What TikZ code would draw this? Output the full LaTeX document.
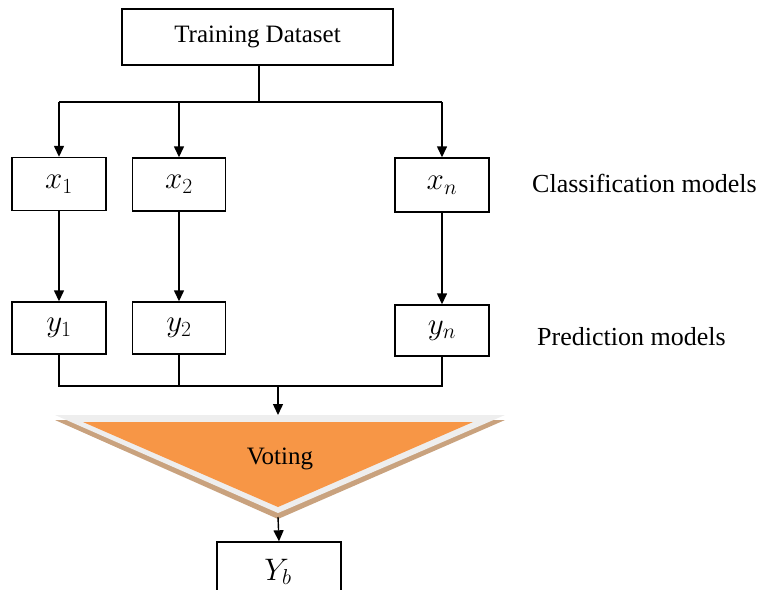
\documentclass[tikz,border=0pt]{standalone}
\usepackage{graphicx}
\usepackage{fontspec}
\setmainfont{Liberation Serif}
\usetikzlibrary{arrows.meta,positioning}
\definecolor{vorange}{HTML}{F79646}
\definecolor{vtan}{HTML}{C9A27E}
\definecolor{vgray}{HTML}{EEEEEE}
\newcommand{\mlabel}[1]{\scalebox{1.25}{$#1$}}
\tikzset{
  box/.style={draw=black,line width=1.4pt,rectangle,inner sep=0pt,fill=white},
  conn/.style={line width=1.4pt,draw=black},
  arr/.style={conn,-{Triangle[width=10pt,length=11pt]}},
  lbl/.style={font=\fontsize{26}{30}\selectfont,inner sep=0pt,anchor=base west},
  mathlbl/.style={font=\fontsize{25}{30}\selectfont}
}
\begin{document}
\begin{tikzpicture}[x=1pt,y=-1pt]
\useasboundingbox (0,0) rectangle (762,589);
\clip (0,0) rectangle (762,589);
% boxes
\node[box,minimum width=271pt,minimum height=56pt,font=\fontsize{25}{30}\selectfont] (train) at (257.5,37) {Training Dataset};
\node[box,minimum width=94pt,minimum height=53pt,mathlbl] (x1) at (59,184) {\mlabel{x_1}};
\node[box,minimum width=93pt,minimum height=53pt,mathlbl] (x2) at (179,184.5) {\mlabel{x_2}};
\node[box,minimum width=94pt,minimum height=54pt,mathlbl] (xn) at (442,185) {\mlabel{x_n}};
\node[box,minimum width=94pt,minimum height=52pt,mathlbl] (y1) at (59,328) {\mlabel{y_1}};
\node[box,minimum width=93pt,minimum height=52pt,mathlbl] (y2) at (179,328) {\mlabel{y_2}};
\node[box,minimum width=94pt,minimum height=51pt,mathlbl] (yn) at (442,330.5) {\mlabel{y_n}};
\node[lbl] (cls) at (532,192) {Classification models};
\node[lbl] (pred) at (537,345) {Prediction models};
% voting triangle
\coordinate (tap) at (278,517);
\fill[vtan] (55,420) -- (505,420) -- (278,519) -- cycle;
\fill[vgray] (55,415) -- (505,415) -- (278,513) -- cycle;
\fill[vorange] (83,422) -- (473,422) -- (278,507) -- cycle;
\node[font=\fontsize{25}{30}\selectfont,inner sep=0pt] (vote) at (280,459) {Voting};
\node[box,minimum width=124pt,minimum height=70pt] (yb) at (279,577) {};
\node[mathlbl,inner sep=0pt] (ybt) at (278,572) {\mlabel{Y_b}};
% connectors top
\coordinate (j0) at (259,102);
\coordinate (j1) at (59,102);
\coordinate (j2) at (179,102);
\coordinate (jn) at (442,102);
\draw[conn] (train.south -| j0) -- (j0);
\draw[conn] (j1) -- (jn);
\draw[arr] (j1) -- (x1.north);
\draw[arr] (j2) -- (x2.north);
\draw[arr] (jn) -- (xn.north);
\draw[arr] (x1.south) -- (y1.north);
\draw[arr] (x2.south) -- (y2.north);
\draw[arr] (xn.south) -- (yn.north);
% bottom collection
\coordinate (k1) at (59,386);
\coordinate (kn) at (442,386);
\coordinate (km) at (278,386);
\coordinate (kv) at (278,415);
\draw[conn] (y1.south) -- (k1) -- (kn) -- (yn.south);
\draw[conn] (y2.south) -- (y2.south |- k1);
\draw[arr] (km) -- (kv);
\draw[arr] (tap) -- (yb.north);
\end{tikzpicture}
\end{document}
